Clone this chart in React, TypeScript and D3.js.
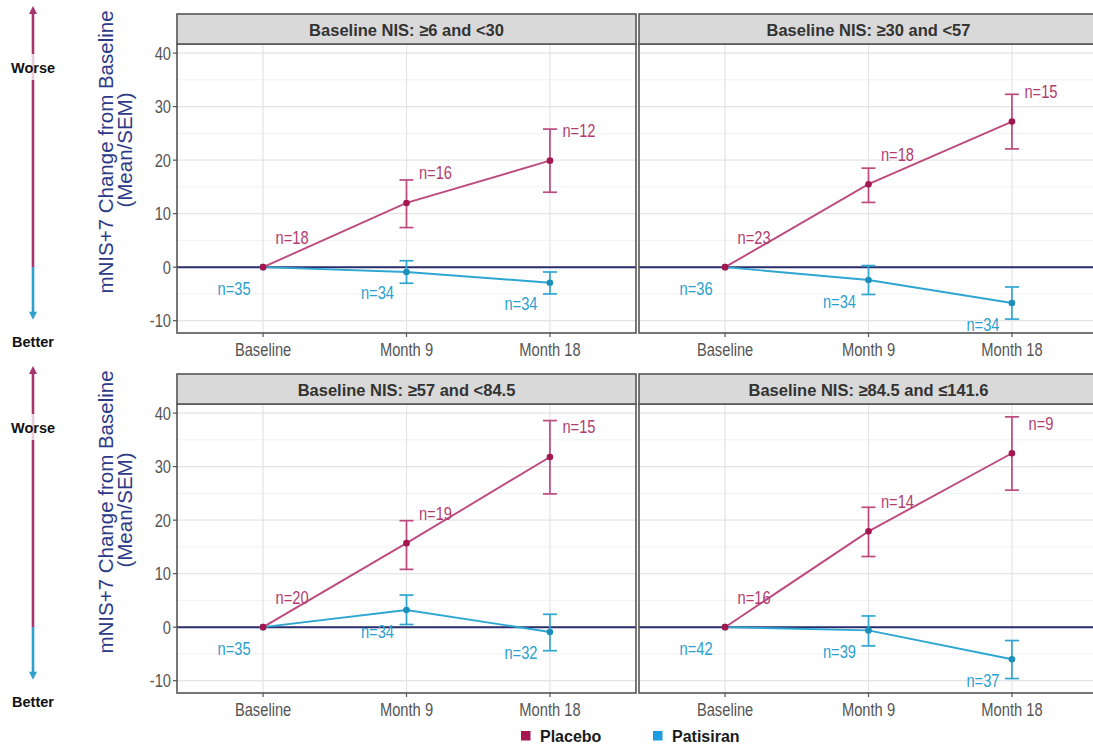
import React from "react";
import * as d3 from "d3";

const timepoints = ["Baseline", "Month 9", "Month 18"];
const panelTitles = [
  "Baseline NIS: ≥6 and <30",
  "Baseline NIS: ≥30 and <57",
  "Baseline NIS: ≥57 and <84.5",
  "Baseline NIS: ≥84.5 and ≤141.6",
];
const placeboMean = [
  [0, 12.0, 19.9],
  [0, 15.5, 27.2],
  [0, 15.7, 31.8],
  [0, 17.9, 32.5],
];
const placeboLow = [
  [0, 7.4, 14.0],
  [0, 12.1, 22.1],
  [0, 10.8, 24.9],
  [0, 13.2, 25.6],
];
const placeboHigh = [
  [0, 16.3, 25.8],
  [0, 18.5, 32.3],
  [0, 19.9, 38.6],
  [0, 22.4, 39.3],
];
const patisiranMean = [
  [0, -0.9, -2.9],
  [0, -2.4, -6.7],
  [0, 3.2, -0.9],
  [0, -0.6, -6.0],
];
const patisiranLow = [
  [0, -3.0, -5.0],
  [0, -5.1, -9.7],
  [0, 0.5, -4.4],
  [0, -3.5, -9.6],
];
const patisiranHigh = [
  [0, 1.2, -0.9],
  [0, 0.3, -3.7],
  [0, 6.0, 2.4],
  [0, 2.1, -2.5],
];
const placeboN = [
  [18, 16, 12],
  [23, 18, 15],
  [20, 19, 15],
  [16, 14, 9],
];
const patisiranN = [
  [35, 34, 34],
  [36, 34, 34],
  [35, 34, 32],
  [42, 39, 37],
];
const yTicks = [-10, 0, 10, 20, 30, 40];
const yMinor = [-5, 5, 15, 25, 35];
const yDomain = [-12.3, 41.7];
const zeroLine = 0;
const legendItems = ["Placebo", "Patisiran"];

const PLACEBO_LINE = "#bd4a7e";
const PLACEBO_PT = "#a3164f";
const PLACEBO_TXT = "#b23d70";
const PATI_LINE = "#2ea6d2";
const PATI_PT = "#1c8fba";
const PATI_TXT = "#2b9fcf";
const SANS = "'Liberation Sans', Arial, sans-serif";
const CONDENSE = 0.84;

const PANEL_W = 459;
const colLeft = [177, 639];
const rowTop = [14, 374];
const STRIP_H = 30;
const PLOT_H = 289;

function NarrowText({ x, y, anchor, fill, size, children }: { x: number; y: number; anchor: string; fill: string; size: number; children: any }) {
  return (
    <text
      transform={`translate(${x},${y}) scale(${CONDENSE},1)`}
      textAnchor={anchor}
      dominantBaseline="central"
      fontFamily={SANS}
      fontSize={size}
      fill={fill}
    >
      {children}
    </text>
  );
}

function Panel({ idx }: { idx: number }) {
  const col = idx % 2;
  const row = Math.floor(idx / 2);
  const left = colLeft[col];
  const top = rowTop[row];
  const plotTop = top + STRIP_H;
  const plotBottom = plotTop + PLOT_H;
  const x = d3.scalePoint<string>().domain(timepoints).range([left, left + PANEL_W]).padding(0.6);
  const y = d3.scaleLinear().domain(yDomain).range([plotBottom, plotTop]);
  const line = d3
    .line<number>()
    .x((_, i) => x(timepoints[i]) as number)
    .y((d) => y(d));
  const clipId = `clip${idx}`;
  const series = [
    { mean: patisiranMean[idx], lo: patisiranLow[idx], hi: patisiranHigh[idx], n: patisiranN[idx], lc: PATI_LINE, pc: PATI_PT, tc: PATI_TXT, dx: -29, dy: 21 },
    { mean: placeboMean[idx], lo: placeboLow[idx], hi: placeboHigh[idx], n: placeboN[idx], lc: PLACEBO_LINE, pc: PLACEBO_PT, tc: PLACEBO_TXT, dx: 29, dy: -30 },
  ];
  return (
    <g>
      <defs>
        <clipPath id={clipId}>
          <rect x={left} y={plotTop} width={PANEL_W} height={PLOT_H} />
        </clipPath>
      </defs>
      <rect x={left} y={plotTop} width={PANEL_W} height={PLOT_H} fill="#fff" />
      <g clipPath={`url(#${clipId})`}>
        {yMinor.map((t) => (
          <line key={"m" + t} x1={left} x2={left + PANEL_W} y1={y(t)} y2={y(t)} stroke="#f1f1f1" strokeWidth={1} />
        ))}
        {yTicks.map((t) => (
          <line key={"M" + t} x1={left} x2={left + PANEL_W} y1={y(t)} y2={y(t)} stroke="#e4e4e4" strokeWidth={1.2} />
        ))}
        {timepoints.map((t) => (
          <line key={t} x1={x(t)} x2={x(t)} y1={plotTop} y2={plotBottom} stroke="#e4e4e4" strokeWidth={1.2} />
        ))}
        <line x1={left} x2={left + PANEL_W} y1={y(zeroLine)} y2={y(zeroLine)} stroke="#2a2d6d" strokeWidth={2} />
        {series.map((s, si) => (
          <g key={si}>
            <path d={line(s.mean) || ""} fill="none" stroke={s.lc} strokeWidth={1.9} />
            {s.mean.map((m, i) => {
              const cx = x(timepoints[i]) as number;
              const hasBar = s.hi[i] !== s.lo[i];
              return (
                <g key={i}>
                  {hasBar && (
                    <g stroke={s.lc} strokeWidth={1.7}>
                      <line x1={cx} x2={cx} y1={y(s.lo[i])} y2={y(s.hi[i])} />
                      <line x1={cx - 7} x2={cx + 7} y1={y(s.lo[i])} y2={y(s.lo[i])} />
                      <line x1={cx - 7} x2={cx + 7} y1={y(s.hi[i])} y2={y(s.hi[i])} />
                    </g>
                  )}
                  <circle cx={cx} cy={y(m)} r={3.3} fill={s.pc} />
                </g>
              );
            })}
          </g>
        ))}
        {series.map((s, si) =>
          s.mean.map((m, i) => (
            <NarrowText key={`${si}-${i}`} x={(x(timepoints[i]) as number) + s.dx} y={y(m) + s.dy} anchor="middle" fill={s.tc} size={17.5}>
              {"n=" + s.n[i]}
            </NarrowText>
          ))
        )}
      </g>
      <rect x={left} y={plotTop} width={PANEL_W} height={PLOT_H} fill="none" stroke="#555" strokeWidth={1.6} />
      <rect x={left} y={top} width={PANEL_W} height={STRIP_H} fill="#d9d9d9" stroke="#555" strokeWidth={1.6} />
      <text x={left + PANEL_W / 2} y={top + STRIP_H / 2 + 1} textAnchor="middle" dominantBaseline="central" fontFamily={SANS} fontWeight="bold" fontSize={16.5} fill="#333">
        {panelTitles[idx]}
      </text>
      {timepoints.map((t) => (
        <g key={"xt" + t}>
          <line x1={x(t)} x2={x(t)} y1={plotBottom} y2={plotBottom + 4} stroke="#555" strokeWidth={1.2} />
          <NarrowText x={x(t) as number} y={plotBottom + 17} anchor="middle" fill="#555" size={17.5}>
            {t}
          </NarrowText>
        </g>
      ))}
      {col === 0 &&
        yTicks.map((t) => (
          <g key={"yt" + t}>
            <line x1={left - 4} x2={left} y1={y(t)} y2={y(t)} stroke="#555" strokeWidth={1.2} />
            <NarrowText x={left - 6} y={y(t)} anchor="end" fill="#555" size={17.5}>
              {t}
            </NarrowText>
          </g>
        ))}
    </g>
  );
}

function SideArrow({ row }: { row: number }) {
  const top = rowTop[row];
  const y = d3.scaleLinear().domain(yDomain).range([top + STRIP_H + PLOT_H, top + STRIP_H]);
  const cx = 33;
  const tipTop = top - 8;
  const tipBottom = y(-10) - 1;
  const split = y(zeroLine);
  return (
    <g>
      <line x1={cx} x2={cx} y1={tipTop + 6} y2={split} stroke="#a5356a" strokeWidth={2.6} />
      <polygon points={`${cx - 4},${tipTop + 8} ${cx + 4},${tipTop + 8} ${cx},${tipTop}`} fill="#a5356a" />
      <line x1={cx} x2={cx} y1={split} y2={tipBottom - 6} stroke="#2e9fcf" strokeWidth={2.6} />
      <polygon points={`${cx - 4},${tipBottom - 8} ${cx + 4},${tipBottom - 8} ${cx},${tipBottom}`} fill="#2e9fcf" />
      <rect x={cx - 26} y={top + 40} width={52} height={26} fill="#fff" opacity={0.75} />
      <text x={cx} y={top + 54} textAnchor="middle" dominantBaseline="central" fontFamily={SANS} fontWeight="bold" fontSize={14.5} fill="#111">
        Worse
      </text>
      <text x={cx} y={top + 328} textAnchor="middle" dominantBaseline="central" fontFamily={SANS} fontWeight="bold" fontSize={14.5} fill="#111">
        Better
      </text>
      <text transform={`translate(105, ${top + 138}) rotate(-90)`} textAnchor="middle" dominantBaseline="central" fontFamily={SANS} fontSize={20.5} fill="#2d3a86">
        mNIS+7 Change from Baseline
      </text>
      <text transform={`translate(124, ${top + 136}) rotate(-90)`} textAnchor="middle" dominantBaseline="central" fontFamily={SANS} fontSize={20.5} fill="#2d3a86">
        (Mean/SEM)
      </text>
    </g>
  );
}

export default function App() {
  const legendColors = [PLACEBO_PT, "#1d9de0"];
  const legendX = [521, 653];
  return (
    <svg width={1093} height={746} style={{ position: "absolute", left: 0, top: 0, background: "#fff" }}>
      <rect x={0} y={0} width={1093} height={746} fill="#fff" />
      {[0, 1].map((r) => (
        <SideArrow key={r} row={r} />
      ))}
      {[0, 1, 2, 3].map((i) => (
        <Panel key={i} idx={i} />
      ))}
      {legendItems.map((name, i) => (
        <g key={name}>
          <rect x={legendX[i]} y={731} width={9.5} height={9.5} fill={legendColors[i]} />
          <text x={legendX[i] + 19} y={736} dominantBaseline="central" fontFamily={SANS} fontWeight="bold" fontSize={16} fill="#1a1a1a">
            {name}
          </text>
        </g>
      ))}
    </svg>
  );
}
